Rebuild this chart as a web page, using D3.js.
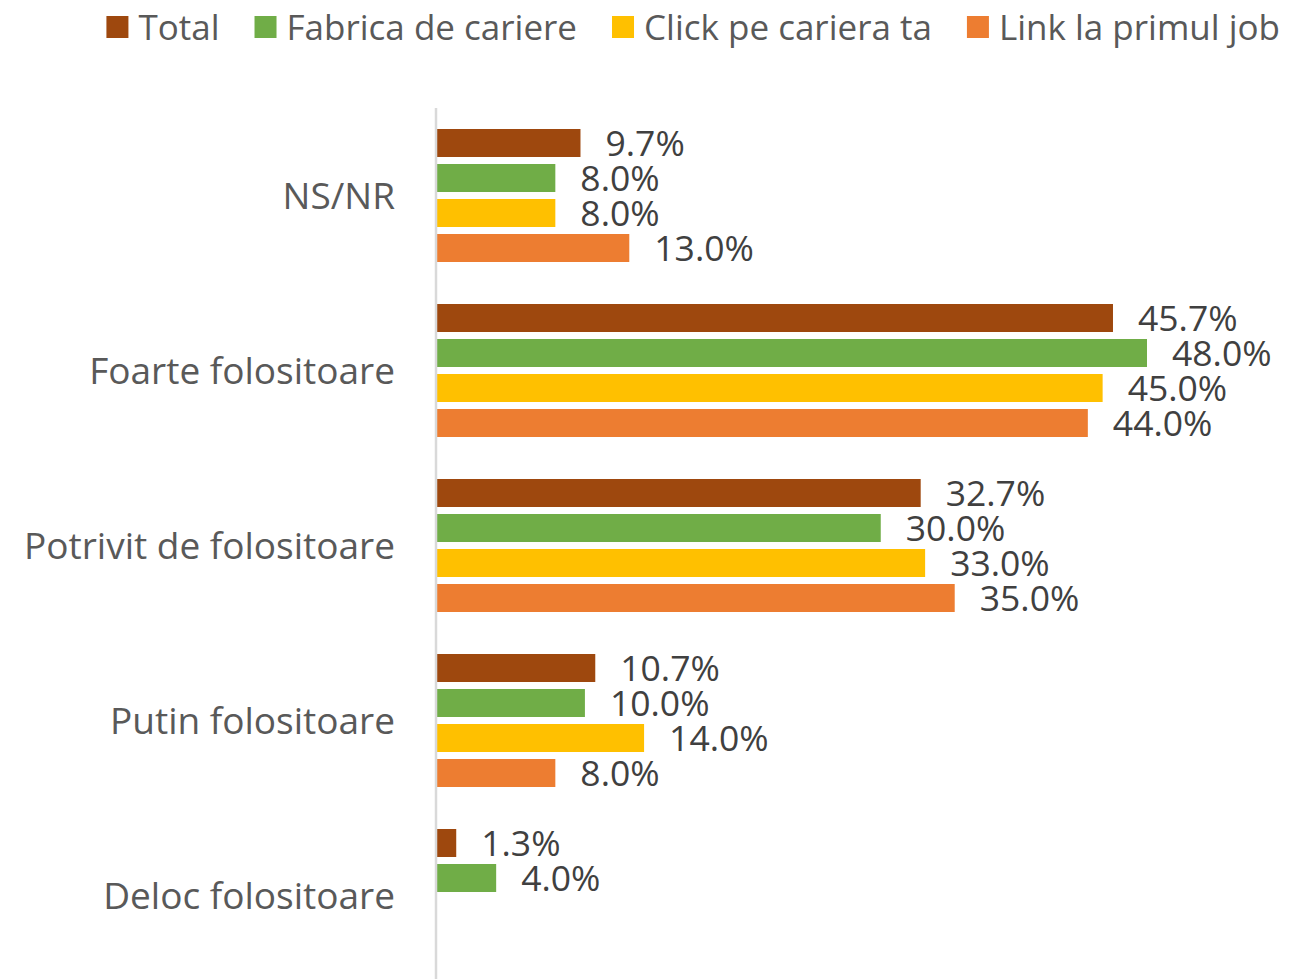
<!DOCTYPE html>
<html>
<head>
<meta charset="utf-8">
<script src="https://cdn.jsdelivr.net/npm/d3@7"></script>
<style>
  body { margin: 0; background: #fff; }
  text { font-family: "Open Sans", "Noto Sans", sans-serif; }
</style>
</head>
<body>
<script>
// categories, top to bottom
var categories = ['NS/NR', 'Foarte folositoare', 'Potrivit de folositoare', 'Putin folositoare', 'Deloc folositoare'];
var seriesNames = ['Total', 'Fabrica de cariere', 'Click pe cariera ta', 'Link la primul job'];
var colors = ['#9E480E', '#70AD47', '#FFC000', '#ED7D31'];

var total   = [9.7, 45.7, 32.7, 10.7, 1.3];
var fabrica = [8.0, 48.0, 30.0, 10.0, 4.0];
var click   = [8.0, 45.0, 33.0, 14.0, null];
var link    = [13.0, 44.0, 35.0, 8.0, null];
var seriesValues = [total, fabrica, click, link];

var W = 1289, H = 979;
var fontSize = 37;

var svg = d3.select('body').append('svg')
    .attr('width', W)
    .attr('height', H);

var xScale = d3.scaleLinear()
    .domain([0, 48])
    .range([437, 1147]);

var yScale = d3.scaleBand()
    .domain(categories)
    .range([108, 983]);

var ySub = d3.scaleBand()
    .domain(seriesNames)
    .range([0, 133])
    .paddingInner(0.2);

var groupOffset = (yScale.bandwidth() - 133) / 2;

// build flat rows
var rows = [];
categories.forEach(function (c, i) {
  seriesNames.forEach(function (s, j) {
    var v = seriesValues[j][i];
    if (v != null) rows.push({cat: c, series: s, value: v, color: colors[j]});
  });
});

var groups = svg.append('g');

groups.selectAll('rect')
  .data(rows)
  .enter()
  .append('rect')
  .attr('x', xScale(0))
  .attr('y', function (d) {
    return yScale(d.cat) + groupOffset + ySub(d.series);
  })
  .attr('width', function (d) {
    return xScale(d.value) - xScale(0);
  })
  .attr('height', ySub.bandwidth())
  .attr('fill', function (d) { return d.color; });

groups.selectAll('text.val')
  .data(rows)
  .enter()
  .append('text')
  .attr('class', 'val')
  .text(function (d) { return d.value.toFixed(1) + '%'; })
  .attr('x', function (d) { return xScale(d.value) + 25; })
  .attr('y', function (d) {
    return yScale(d.cat) + groupOffset + ySub(d.series) + ySub.bandwidth() / 2;
  })
  .attr('dy', '0.38em')
  .attr('font-size', '35.5px')
  .attr('fill', '#404040');

// category axis
var yAxis = d3.axisLeft(yScale).tickSize(0).tickPadding(41);
var axisG = svg.append('g')
  .attr('transform', 'translate(436,0)')
  .call(yAxis);
axisG.select('.domain').remove();
axisG.selectAll('text')
  .attr('font-size', fontSize + 'px')
  .attr('fill', '#595959')
  .attr('dy', '0.36em');

svg.append('line')
  .attr('x1', 436).attr('x2', 436)
  .attr('y1', 108).attr('y2', H)
  .attr('stroke', '#d9d9d9')
  .attr('stroke-width', 2.5);

// legend, right aligned
var legend = svg.append('g');
var items = legend.selectAll('g')
  .data(seriesNames)
  .enter()
  .append('g');
items.append('rect')
  .attr('width', 22).attr('height', 22)
  .attr('y', 16)
  .attr('fill', function (d, i) { return colors[i]; });
items.append('text')
  .text(function (d) { return d; })
  .attr('x', 32)
  .attr('y', 27)
  .attr('dy', '0.36em')
  .attr('font-size', '35px')
  .attr('fill', '#595959');

var widths = [];
items.each(function () { widths.push(this.getBBox().width); });
var totalW = d3.sum(widths) + 35 * (widths.length - 1);
var lx = 1280 - totalW;
items.attr('transform', function (d, i) {
  var x = lx;
  lx += widths[i] + 35;
  return 'translate(' + x + ',0)';
});
</script>
</body>
</html>
